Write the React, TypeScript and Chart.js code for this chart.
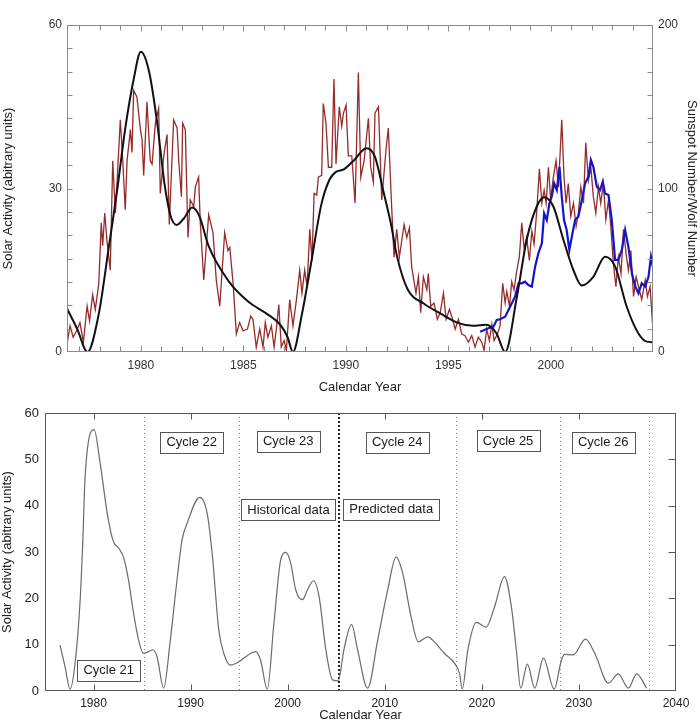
import React, { useEffect, useRef } from 'react';
import { Chart, registerables } from 'chart.js';

Chart.register(...registerables);

const FONT = "'Liberation Sans', Arial, Helvetica, sans-serif";

// ---------- Top panel data ----------
// Smoothed solar activity (left axis, arbitrary units)
const blackYears = [1976.4, 1976.9, 1977.4, 1977.95, 1978.43, 1978.84, 1979.24, 1979.65, 1980.0, 1980.4, 1980.8, 1981.15, 1981.45, 1981.75, 1982.1, 1982.5, 1982.85, 1983.3, 1984.3, 1985.25, 1986.15, 1986.8, 1987.15, 1987.42, 1987.85, 1988.3, 1988.8, 1989.2, 1989.5, 1989.9, 1990.4, 1991.0, 1991.42, 1991.83, 1992.2, 1992.5, 1993.0, 1993.8, 1994.6, 1995.5, 1996.2, 1996.85, 1997.35, 1997.77, 1998.34, 1998.82, 1999.31, 1999.67, 2000.12, 2000.61, 2001.1, 2001.5, 2002.07, 2002.64, 2003.13, 2003.7, 2004.27, 2004.68, 2005.0];
const blackActivity = [8.0, 4.2, 0, 7.0, 19.0, 29.5, 41, 50, 55.1, 51.5, 42, 31, 25, 23.3, 24.5, 26.5, 25, 19.5, 12.9, 9.2, 7.0, 5.0, 2.8, 0, 6.8, 16.2, 27, 31.6, 33, 33.5, 35.2, 37.4, 35.8, 29.5, 23.5, 17.5, 11.6, 8.9, 7.1, 5.3, 4.8, 5.0, 3.4, 0, 10.1, 20.6, 26.7, 28.4, 26.7, 20.6, 15.0, 12.2, 13.8, 17.5, 15.7, 8.3, 3.4, 1.9, 1.8];

// Sunspot number (right axis)
const redYears = [1976.40, 1976.55, 1976.70, 1976.87, 1977.03, 1977.20, 1977.38, 1977.50, 1977.65, 1977.78, 1977.95, 1978.07, 1978.14, 1978.24, 1978.35, 1978.51, 1978.63, 1978.76, 1979.00, 1979.12, 1979.24, 1979.33, 1979.49, 1979.57, 1979.65, 1979.81, 1979.98, 1980.06, 1980.14, 1980.30, 1980.46, 1980.55, 1980.71, 1980.87, 1980.95, 1981.12, 1981.28, 1981.39, 1981.60, 1981.77, 1981.85, 1981.98, 1982.04, 1982.17, 1982.30, 1982.41, 1982.58, 1982.66, 1982.82, 1982.90, 1983.07, 1983.31, 1983.52, 1983.68, 1983.85, 1984.09, 1984.25, 1984.34, 1984.50, 1984.66, 1984.82, 1984.99, 1985.20, 1985.36, 1985.47, 1985.63, 1985.80, 1985.96, 1986.07, 1986.20, 1986.37, 1986.50, 1986.61, 1986.73, 1986.85, 1986.99, 1987.10, 1987.26, 1987.42, 1987.59, 1987.75, 1987.86, 1987.99, 1988.11, 1988.24, 1988.35, 1988.45, 1988.58, 1988.66, 1988.82, 1988.90, 1989.03, 1989.15, 1989.31, 1989.42, 1989.52, 1989.68, 1989.80, 1989.88, 1990.01, 1990.12, 1990.29, 1990.45, 1990.61, 1990.73, 1990.89, 1991.10, 1991.21, 1991.34, 1991.42, 1991.59, 1991.75, 1991.96, 1992.07, 1992.24, 1992.35, 1992.48, 1992.61, 1992.84, 1992.97, 1993.10, 1993.21, 1993.29, 1993.42, 1993.54, 1993.65, 1993.78, 1993.95, 1994.02, 1994.14, 1994.30, 1994.46, 1994.60, 1994.76, 1994.89, 1995.05, 1995.21, 1995.33, 1995.49, 1995.65, 1995.81, 1995.98, 1996.14, 1996.30, 1996.46, 1996.63, 1996.74, 1996.87, 1997.00, 1997.12, 1997.23, 1997.39, 1997.52, 1997.65, 1997.77, 1997.85, 1997.98, 1998.09, 1998.20, 1998.34, 1998.46, 1998.58, 1998.70, 1998.82, 1998.95, 1999.07, 1999.18, 1999.31, 1999.44, 1999.56, 1999.67, 1999.77, 1999.88, 1999.99, 2000.12, 2000.25, 2000.37, 2000.53, 2000.64, 2000.74, 2000.85, 2000.97, 2001.10, 2001.23, 2001.34, 2001.46, 2001.59, 2001.70, 2001.83, 2001.95, 2002.07, 2002.19, 2002.32, 2002.43, 2002.56, 2002.68, 2002.81, 2002.92, 2003.05, 2003.17, 2003.29, 2003.42, 2003.54, 2003.67, 2003.78, 2003.90, 2004.03, 2004.16, 2004.27, 2004.43, 2004.60, 2004.71, 2004.84, 2004.97];
const redSunspots = [5, 16, 9, 13, 18, 6, 28, 19, 35, 26, 42, 79, 65, 85, 68, 50, 117, 85, 142, 117, 87, 117, 136, 122, 160, 156, 136, 130, 108, 153, 117, 115, 140, 149, 97, 120, 133, 78, 142, 137, 117, 95, 140, 136, 70, 93, 89, 101, 107, 79, 44, 84, 73, 44, 28, 73, 62, 64, 42, 11, 18, 13, 14, 22, 20, 3, 14, 3, 18, 9, 16, 3, 14, 29, 3, 7, 1, 32, 16, 32, 50, 36, 50, 40, 75, 56, 97, 96, 107, 108, 152, 140, 113, 113, 167, 115, 150, 138, 146, 151, 120, 120, 91, 171, 107, 117, 143, 113, 104, 146, 150, 93, 124, 137, 87, 58, 75, 58, 78, 70, 76, 52, 46, 36, 46, 24, 46, 38, 48, 28, 30, 20, 24, 36, 20, 26, 20, 14, 20, 11, 10, 6, 10, 3, 9, 6, 1, 14, 7, 17, 7, 11, 16, 42, 30, 37, 28, 43, 38, 50, 58, 79, 63, 70, 56, 74, 66, 86, 112, 91, 99, 91, 113, 93, 107, 117, 101, 142, 107, 91, 103, 83, 91, 77, 85, 101, 91, 128, 105, 113, 95, 85, 101, 91, 103, 81, 93, 77, 54, 40, 58, 48, 75, 60, 50, 62, 34, 46, 40, 32, 44, 34, 40, 15];

// Wolf number (right axis)
const blueYears = [1996.55, 1996.95, 1997.2, 1997.36, 1997.52, 1997.77, 1998.01, 1998.25, 1998.42, 1998.58, 1998.74, 1998.9, 1999.07, 1999.23, 1999.39, 1999.56, 1999.67, 1999.8, 1999.93, 2000.04, 2000.16, 2000.29, 2000.42, 2000.53, 2000.64, 2000.77, 2000.9, 2001.02, 2001.18, 2001.34, 2001.51, 2001.67, 2001.83, 2001.95, 2002.07, 2002.24, 2002.4, 2002.53, 2002.64, 2002.81, 2002.97, 2003.13, 2003.29, 2003.46, 2003.62, 2003.78, 2003.95, 2004.12, 2004.27, 2004.43, 2004.6, 2004.76, 2004.88, 2005.0];
const blueWolf = [12.4, 14.5, 15.5, 19.6, 20, 21.6, 27.7, 33.8, 42, 42, 43, 41, 40, 52.2, 60.4, 66.5, 84.8, 80.7, 91, 95, 103.2, 99.1, 113.3, 95, 80.7, 74.6, 62.4, 70.5, 80.7, 82.8, 93, 103.2, 107.2, 117.4, 113.3, 101.1, 99.1, 104.2, 97, 96, 80.7, 56.3, 56.3, 62.4, 74.6, 64.4, 48.1, 40, 35.9, 42, 40, 46, 58.3, 50.2];

// ---------- Bottom panel data ----------
const predYears = [1976.55, 1977.07, 1977.58, 1978.1, 1978.6, 1978.9, 1979.13, 1980.06, 1980.68, 1981.4, 1982.0, 1982.6, 1983.1, 1983.6, 1984.12, 1984.64, 1985.15, 1985.67, 1986.1, 1986.54, 1987.22, 1987.91, 1988.6, 1989.12, 1989.64, 1990.94, 1991.7, 1992.22, 1992.9, 1993.42, 1994.11, 1994.8, 1995.49, 1996.18, 1996.7, 1997.2, 1997.9, 1998.58, 1999.28, 1999.8, 2000.31, 2000.83, 2001.52, 2002.03, 2002.66, 2003.23, 2003.93, 2004.62, 2005.2, 2005.8, 2006.58, 2007.2, 2008.23, 2009.27, 2010.3, 2011.16, 2011.85, 2012.71, 2013.46, 2014.43, 2015.11, 2016.15, 2017.18, 2017.7, 2017.98, 2018.56, 2019.42, 2020.45, 2021.31, 2022.34, 2023.04, 2023.55, 2024.0, 2024.69, 2025.45, 2026.34, 2027.45, 2028.2, 2028.55, 2029.41, 2030.68, 2031.64, 2033.03, 2034.06, 2035.09, 2035.95, 2036.98];
const predActivity = [9.9, 5.2, 0.4, 6, 18.9, 32.6, 46.3, 56.4, 49.2, 38.5, 32.5, 30.8, 28.8, 24, 16.8, 11, 8.1, 8.5, 8.9, 7.4, 0.6, 11, 24, 32.6, 36.2, 41.8, 38.4, 29.7, 13.2, 8.1, 5.6, 6.1, 7.1, 8.1, 8.5, 6.7, 0.4, 14.6, 28.3, 29.9, 27.6, 21.8, 19.7, 21.8, 23.8, 20.4, 8.9, 2.4, 2.2, 9, 14.4, 8.9, 0.6, 11, 21.8, 28.9, 25.4, 16, 10.6, 11.7, 10.6, 8.1, 6, 3.8, 0.4, 8.9, 14.8, 13.8, 18.2, 24.7, 18.2, 8.9, 0.6, 5.8, 0.6, 7.1, 0.4, 6.7, 7.9, 7.8, 11.2, 8.1, 1.7, 3.7, 0.6, 3.7, 0.6];

const cycleBoundaryYears = [1985.2, 1995.0, 2017.3, 2028.0, 2037.2];
const dataSplitYear = 2005.3;

const boxTexts = ['Cycle 21', 'Cycle 22', 'Cycle 23', 'Historical data', 'Predicted data', 'Cycle 24', 'Cycle 25', 'Cycle 26'];
const boxYears = [1981.56, 1990.11, 2000.05, 2000.08, 2010.67, 2011.28, 2022.7, 2032.5];
const boxValues = [4.5, 53.7, 53.9, 39.1, 39.2, 53.7, 54.0, 53.7];

const topYearTicks = Array.from({ length: 2004 - 1977 + 1 }, (_, i) => 1977 + i);
const topLeftTicks = Array.from({ length: 15 }, (_, i) => (i * 60) / 14);
const topRightTicks = Array.from({ length: 15 }, (_, i) => (i * 200) / 14);
const bottomYearTicks = [1980, 1990, 2000, 2010, 2020, 2030, 2040];
const bottomValueTicks = [0, 10, 20, 30, 40, 50, 60];

const zip = (xs: number[], ys: number[]) => xs.map((x, i) => ({ x, y: ys[i] }));

function line(ctx: CanvasRenderingContext2D, x1: number, y1: number, x2: number, y2: number) {
  ctx.beginPath();
  ctx.moveTo(x1, y1);
  ctx.lineTo(x2, y2);
  ctx.stroke();
}

const noGrid = { display: false, drawTicks: false, tickLength: 0 };

const topFramePlugin = {
  id: 'topFrame',
  afterDatasetsDraw(chart: any) {
    const { ctx, chartArea: a, scales } = chart;
    ctx.save();
    ctx.strokeStyle = '#8a8a8a';
    ctx.lineWidth = 1;
    const L = Math.round(a.left) + 0.5, R = Math.round(a.right) - 0.5;
    const T = Math.round(a.top) + 0.5, B = Math.round(a.bottom) - 0.5;
    ctx.strokeRect(L, T, R - L, B - T);
    scales.x.ticks.forEach((t: any) => {
      const p = Math.round(scales.x.getPixelForValue(t.value)) + 0.5;
      if (p <= L + 1 || p >= R - 1) return;
      const len = t.value % 5 === 0 ? 6 : 5;
      line(ctx, p, B, p, B - len);
      line(ctx, p, T, p, T + len);
    });
    scales.y.ticks.forEach((t: any) => {
      const p = Math.round(scales.y.getPixelForValue(t.value)) + 0.5;
      if (p <= T + 1 || p >= B - 1) return;
      line(ctx, L, p, L + 5, p);
    });
    scales.y1.ticks.forEach((t: any) => {
      const p = Math.round(scales.y1.getPixelForValue(t.value)) + 0.5;
      if (p <= T + 1 || p >= B - 1) return;
      line(ctx, R, p, R - 5, p);
    });
    ctx.restore();
  },
};

const bottomFramePlugin = {
  id: 'bottomFrame',
  beforeDatasetsDraw(chart: any) {
    const { ctx, chartArea: a, scales } = chart;
    ctx.save();
    ctx.strokeStyle = '#8a8a8a';
    ctx.lineWidth = 1;
    ctx.setLineDash([1, 3]);
    cycleBoundaryYears.forEach((yr) => {
      const p = Math.round(scales.x.getPixelForValue(yr)) + 0.5;
      line(ctx, p, a.top, p, a.bottom);
    });
    ctx.strokeStyle = '#222';
    ctx.lineWidth = 2;
    ctx.setLineDash([2, 2]);
    const ps = Math.round(scales.x.getPixelForValue(dataSplitYear));
    line(ctx, ps, a.top, ps, a.bottom);
    ctx.restore();
  },
  afterDatasetsDraw(chart: any) {
    const { ctx, chartArea: a, scales } = chart;
    ctx.save();
    ctx.strokeStyle = '#555';
    ctx.lineWidth = 1;
    const L = Math.round(a.left) + 0.5, R = Math.round(a.right) - 0.5;
    const T = Math.round(a.top) + 0.5, B = Math.round(a.bottom) - 0.5;
    ctx.strokeRect(L, T, R - L, B - T);
    scales.x.ticks.forEach((t: any) => {
      const p = Math.round(scales.x.getPixelForValue(t.value)) + 0.5;
      if (p <= L + 1 || p >= R - 1) return;
      line(ctx, p, B, p, B - 6);
      line(ctx, p, T, p, T + 6);
    });
    scales.y.ticks.forEach((t: any) => {
      const p = Math.round(scales.y.getPixelForValue(t.value)) + 0.5;
      if (p <= T + 1 || p >= B - 1) return;
      line(ctx, R, p, R - 7, p);
    });
    // label boxes
    ctx.font = `13px ${FONT}`;
    ctx.textAlign = 'center';
    ctx.textBaseline = 'middle';
    boxTexts.forEach((txt, i) => {
      const cx = scales.x.getPixelForValue(boxYears[i]);
      const cy = scales.y.getPixelForValue(boxValues[i]);
      const w = Math.round(ctx.measureText(txt).width + 12);
      const h = 21;
      const bx = Math.round(cx - w / 2) + 0.5;
      const by = Math.round(cy - h / 2) + 0.5;
      ctx.fillStyle = '#ffffff';
      ctx.fillRect(bx, by, w, h);
      ctx.strokeStyle = '#555';
      ctx.strokeRect(bx, by, w, h);
      ctx.fillStyle = '#1a1a1a';
      ctx.fillText(txt, cx, cy + 0.5);
    });
    ctx.restore();
  },
};

function TopChart() {
  const ref = useRef<HTMLCanvasElement>(null);
  useEffect(() => {
    if (!ref.current) return;
    const chart = new Chart(ref.current, {
      type: 'line',
      data: {
        datasets: [
          {
            label: 'Solar activity',
            data: zip(blackYears, blackActivity),
            yAxisID: 'y',
            borderColor: '#111111',
            borderWidth: 2,
            pointRadius: 0,
            cubicInterpolationMode: 'monotone',
          },
          {
            label: 'Wolf number',
            data: zip(blueYears, blueWolf),
            yAxisID: 'y1',
            borderColor: '#1414c8',
            borderWidth: 2.2,
            pointRadius: 0,
            tension: 0,
          },
          {
            label: 'Sunspot number',
            data: zip(redYears, redSunspots),
            yAxisID: 'y1',
            borderColor: '#962b2b',
            borderWidth: 1.3,
            pointRadius: 0,
            tension: 0,
          },
        ],
      },
      options: {
        responsive: false,
        animation: false,
        events: [],
        layout: { padding: { top: 25, left: 0, right: 0, bottom: 0 } },
        plugins: { legend: { display: false }, tooltip: { enabled: false } },
        scales: {
          x: {
            type: 'linear',
            min: 1976.4,
            max: 2004.98,
            afterBuildTicks: (s: any) => { s.ticks = topYearTicks.map((v) => ({ value: v })); },
            afterFit: (s: any) => { s.height = 43; },
            grid: noGrid,
            border: { display: false },
            ticks: {
              autoSkip: false, maxRotation: 0, minRotation: 0, padding: 6,
              color: '#333', font: { family: FONT, size: 12 },
              callback: (v: any) => (Number(v) % 5 === 0 ? String(v) : ''),
            },
            title: { display: true, text: 'Calendar Year', color: '#222', font: { family: FONT, size: 13 }, padding: { top: 0, bottom: 0 } },
          },
          y: {
            type: 'linear',
            position: 'left',
            min: 0,
            max: 60,
            afterBuildTicks: (s: any) => { s.ticks = topLeftTicks.map((v) => ({ value: v })); },
            afterFit: (s: any) => { s.width = 67; },
            grid: noGrid,
            border: { display: false },
            ticks: {
              autoSkip: false, padding: 5, color: '#333', font: { family: FONT, size: 12 },
              callback: (v: any, i: number) => (i % 7 === 0 ? String(Math.round(Number(v))) : ''),
            },
            title: { display: true, text: 'Solar Activity (abitrary units)', color: '#222', font: { family: FONT, size: 13 }, padding: { top: 1, bottom: 0 } },
          },
          y1: {
            type: 'linear',
            position: 'right',
            min: 0,
            max: 200,
            afterBuildTicks: (s: any) => { s.ticks = topRightTicks.map((v) => ({ value: v })); },
            afterFit: (s: any) => { s.width = 47; },
            grid: noGrid,
            border: { display: false },
            ticks: {
              autoSkip: false, padding: 5, color: '#333', font: { family: FONT, size: 12 },
              callback: (v: any, i: number) => (i % 7 === 0 ? String(Math.round(Number(v))) : ''),
            },
            title: { display: true, text: 'Sunspot Number/Wolf Number', color: '#222', font: { family: FONT, size: 13 }, padding: { top: 1, bottom: 0 } },
          },
        },
      },
      plugins: [topFramePlugin],
    } as any);
    return () => chart.destroy();
  }, []);
  return <canvas ref={ref} width={700} height={395} style={{ position: 'absolute', left: 0, top: 0, display: 'block' }} />;
}

function BottomChart() {
  const ref = useRef<HTMLCanvasElement>(null);
  useEffect(() => {
    if (!ref.current) return;
    const chart = new Chart(ref.current, {
      type: 'line',
      data: {
        datasets: [
          {
            label: 'Solar activity (historical and predicted)',
            data: zip(predYears, predActivity),
            borderColor: '#6a6a6a',
            borderWidth: 1.2,
            pointRadius: 0,
            cubicInterpolationMode: 'monotone',
          },
        ],
      },
      options: {
        responsive: false,
        animation: false,
        events: [],
        layout: { padding: { top: 18, left: 0, right: 24, bottom: 0 } },
        plugins: { legend: { display: false }, tooltip: { enabled: false } },
        scales: {
          x: {
            type: 'linear',
            min: 1975,
            max: 2040,
            afterBuildTicks: (s: any) => { s.ticks = bottomYearTicks.map((v) => ({ value: v })); },
            afterFit: (s: any) => { s.height = 32; },
            grid: noGrid,
            border: { display: false },
            ticks: {
              autoSkip: false, maxRotation: 0, minRotation: 0, padding: 5,
              color: '#222', font: { family: FONT, size: 12 },
              callback: (v: any) => String(v),
            },
            title: { display: true, text: 'Calendar Year', color: '#222', font: { family: FONT, size: 13 }, padding: { top: 0, bottom: 0 } },
          },
          y: {
            type: 'linear',
            min: 0,
            max: 60,
            afterBuildTicks: (s: any) => { s.ticks = bottomValueTicks.map((v) => ({ value: v })); },
            afterFit: (s: any) => { s.width = 45; },
            grid: noGrid,
            border: { display: false },
            ticks: { autoSkip: false, padding: 6, color: '#222', font: { family: FONT, size: 13 }, callback: (v: any) => String(v) },
            title: { display: true, text: 'Solar Activity (abitrary units)', color: '#222', font: { family: FONT, size: 13 }, padding: { top: 0, bottom: 0 } },
          },
        },
      },
      plugins: [bottomFramePlugin],
    } as any);
    return () => chart.destroy();
  }, []);
  return <canvas ref={ref} width={700} height={328} style={{ position: 'absolute', left: 0, top: 395, display: 'block' }} />;
}

export default function App() {
  return (
    <div style={{ position: 'absolute', left: 0, top: 0, width: 700, height: 723, background: '#ffffff', overflow: 'hidden' }}>
      <TopChart />
      <BottomChart />
    </div>
  );
}
